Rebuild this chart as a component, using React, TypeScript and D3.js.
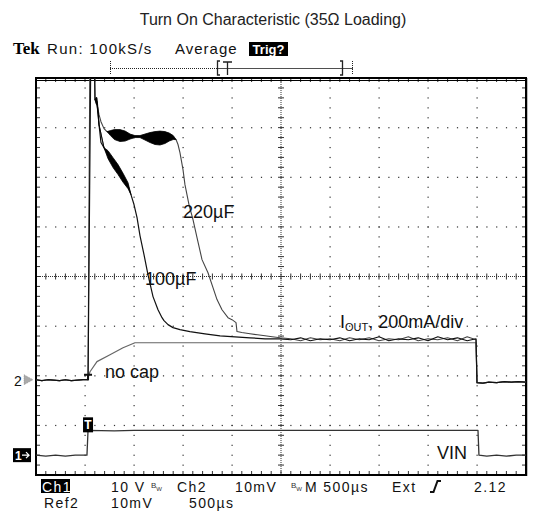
import React from 'react';
import * as d3 from 'd3';

// scope settings
const timeDiv = 500; // µs / div
const iDiv = 200; // mA / div (IOUT)
const vDiv = 10; // V / div (VIN)
const iGround = -2.08; // div, ref marker "2"
const vGround = -3.6; // div, marker "1"

// shared baseline before the trigger and after VIN goes away
const preT = [0, 60, 120, 180, 240, 300, 360, 420, 480];
const preI = [0, -4, 0, -2, -4, 0, -4, -2, 0];
const postT = [4500, 4560, 4620, 4700, 4780, 4850, 4920, 5000];
const postI = [-12, -14, -10, -12, -8, -10, -8, -10];

// 220µF
const c220T = [520, 531, 551, 592, 602, 622, 643, 663, 694, 724, 776, 857, 939, 1010, 1112, 1214, 1316, 1388, 1429, 1449,
  1469, 1500, 1520, 1561, 1602, 1643, 1694, 1755, 1806, 1847, 1898, 1959, 2000, 2041, 2051, 2100, 2184, 2260, 2337, 2410, 2490];
const c220I = [0, 0, 1400, 1400, 1129, 1113, 1068, 1040, 1012, 1000, 992, 984, 980, 980, 978, 976, 976, 976, 968, 948,
  915, 847, 786, 706, 645, 573, 484, 431, 371, 323, 282, 250, 242, 230, 194, 190, 185, 181, 177, 173, 169];

// 100µF
const c100T = [520, 531, 561, 592, 602, 622, 643, 663, 694, 735, 786, 837, 888, 939, 969, 1000, 1031, 1061, 1102, 1143,
  1194, 1245, 1286, 1306, 1347, 1398, 1469, 1571, 1724, 1878, 2031, 2184, 2337, 2490];
const c100I = [0, 0, 1400, 1400, 1129, 1121, 1028, 956, 935, 907, 875, 847, 814, 782, 746, 706, 653, 581, 504, 423,
  335, 282, 250, 238, 222, 210, 202, 194, 185, 177, 173, 169, 165, 165];

// noisy settled part
const tailT = [2600, 2700, 2800, 2900, 3000, 3100, 3200, 3300, 3400, 3500, 3600, 3700, 3800, 3900, 4000, 4100, 4200, 4300, 4400, 4490];
const tail100I = [161, 169, 157, 165, 161, 169, 157, 165, 161, 173, 157, 165, 161, 169, 157, 173, 161, 169, 157, 165];
const tail220I = [165, 157, 169, 161, 165, 157, 169, 161, 169, 157, 165, 161, 173, 157, 165, 161, 169, 157, 173, 161];

// ringing envelopes
const band220T = [724, 760, 800, 857, 910, 960, 1010, 1061, 1112, 1163, 1214, 1265, 1316, 1360, 1400, 1429];
const band220Mid = [1000, 994, 988, 984, 982, 980, 980, 980, 978, 976, 974, 974, 976, 978, 976, 968];
const band220Half = [0, 10, 20, 24, 20, 10, 4, 4, 12, 20, 26, 28, 24, 16, 8, 0];
const band100T = [602, 612, 622, 633, 643, 694, 735, 786, 837, 888, 939, 969];
const band100Mid = [1129, 1125, 1121, 1080, 1028, 935, 907, 875, 847, 814, 782, 746];
const band100Half = [0, 12, 16, 10, 0, 0, 16, 20, 20, 18, 12, 0];

// no cap
const ncT = [520, 531, 551, 622, 755, 888, 1010, 1200, 2500, 3500, 4490];
const ncI = [0, 8, 32, 73, 101, 129, 149, 149, 149, 149, 149];

// VIN
const vinT = [0, 100, 200, 300, 400, 520, 531, 800, 1000, 2000, 3000, 4000, 4510, 4520, 4600, 4700, 4800, 4900, 5000];
const vinV = [0, -0.2, 0, -0.2, 0, 0, 5, 4.9, 5, 5, 5, 5, 5, 0, -0.2, 0, -0.2, 0, 0];

const left = 36, right = 526, top = 78, bottom = 475;
const x = d3.scaleLinear().domain([0, 10 * timeDiv]).range([left, right]);
const xd = d3.scaleLinear().domain([0, 10]).range([left, right]);
const yd = d3.scaleLinear().domain([-4, 4]).range([bottom, top]);
const yI = (mA: number) => yd(iGround + mA / iDiv);
const yV = (v: number) => yd(vGround + v / vDiv);

const zip = (a: number[], b: number[]) => a.map((t, i) => [t, b[i]] as [number, number]);

const lineI = d3.line<[number, number]>().x(d => x(d[0])).y(d => yI(d[1]));
const lineV = d3.line<[number, number]>().x(d => x(d[0])).y(d => yV(d[1]));

const bandArea = (ts: number[], mid: number[], half: number[]) =>
  d3.area<number>()
    .x(i => x(ts[i]))
    .y0(i => yI(mid[i] - half[i]))
    .y1(i => yI(mid[i] + half[i]))(d3.range(ts.length)) || '';

const font = 'Liberation Sans, Arial, sans-serif';

export default function App() {
  const trace220 = [...zip(preT, preI), ...zip(c220T, c220I), ...zip(tailT, tail220I), ...zip(postT, postI)];
  const trace100 = [...zip(preT, preI), ...zip(c100T, c100I), ...zip(tailT, tail100I), ...zip(postT, postI)];
  const traceNc = [...zip(preT, preI), ...zip(ncT, ncI), ...zip(postT, postI)];
  const traceVin = zip(vinT, vinV);

  const fifths = d3.range(0, 50.5, 1).map(k => k / 5); // 0..10 div
  const fifthsY = d3.range(0, 40.5, 1).map(k => -4 + k / 5); // -4..4 div

  const dots: React.ReactNode[] = [];
  [1, 2, 3, 4, 6, 7, 8, 9].forEach(i => fifthsY.forEach((j, n) =>
    dots.push(<rect key={`v${i}-${n}`} x={xd(i) - 0.5} y={yd(j) - 0.5} width={1.2} height={1.2} fill="#333" />)));
  [-3, -2, -1, 1, 2, 3].forEach(k => fifths.forEach((i, n) =>
    dots.push(<rect key={`h${k}-${n}`} x={xd(i) - 0.5} y={yd(k) - 0.5} width={1.2} height={1.2} fill="#333" />)));

  const ticks: React.ReactNode[] = [];
  fifths.forEach((i, n) => {
    const px = xd(i);
    ticks.push(<line key={`tt${n}`} x1={px} x2={px} y1={top} y2={top + 4} />);
    ticks.push(<line key={`tb${n}`} x1={px} x2={px} y1={bottom - 4} y2={bottom} />);
    ticks.push(<line key={`tc${n}`} x1={px} x2={px} y1={yd(0) - 3} y2={yd(0) + 3} />);
  });
  fifthsY.forEach((j, n) => {
    const py = yd(j);
    ticks.push(<line key={`tl${n}`} x1={left} x2={left + 4} y1={py} y2={py} />);
    ticks.push(<line key={`tr${n}`} x1={right - 4} x2={right} y1={py} y2={py} />);
    ticks.push(<line key={`tm${n}`} x1={xd(5) - 3} x2={xd(5) + 3} y1={py} y2={py} />);
  });

  const txt = { fontFamily: font, fontSize: 15, letterSpacing: 1, fill: '#111' } as const;
  const rd = { fontFamily: font, fontSize: 14, letterSpacing: 1.4, fill: '#111' } as const;

  return (
    <svg width={533} height={513} style={{ position: 'absolute', left: 0, top: 0, background: '#fff' }}>
      <defs>
        <clipPath id="screen">
          <rect x={left} y={top} width={right - left} height={bottom - top} />
        </clipPath>
      </defs>

      <text x={273} y={25} textAnchor="middle" fontFamily={font} fontSize={16} fill="#222">
        Turn On Characteristic (35Ω Loading)
      </text>

      {/* header */}
      <text x={13} y={54} fontFamily="Liberation Serif, Times New Roman, serif" fontWeight="bold" fontSize={17}>Tek</text>
      <text x={47} y={54} {...txt} letterSpacing={1.3}>Run: 100kS/s</text>
      <text x={175} y={54} {...txt}>Average</text>
      <rect x={249} y={42} width={39} height={14} fill="#000" />
      <text x={268.5} y={54} textAnchor="middle" fontFamily={font} fontWeight="bold" fontSize={13} fill="#fff">Trig?</text>

      {/* record bar */}
      <g stroke="#222" strokeWidth={1} fill="none">
        <line x1={110} x2={217} y1={68.5} y2={68.5} strokeDasharray="1 1" />
        <line x1={217} x2={353} y1={68.5} y2={68.5} strokeWidth={0.8} />
        <line x1={110.5} x2={110.5} y1={61} y2={75} strokeDasharray="1 1" />
        <line x1={352.5} x2={352.5} y1={61} y2={75} strokeDasharray="1 1" />
        <path d="M220,61 H217.5 V75 H220" strokeWidth={1.3} />
        <path d="M340,61 H342.5 V75 H340" strokeWidth={1.3} />
        <path d="M223,62 H232 M227.5,62 V75" strokeWidth={1.3} />
      </g>

      {/* graticule */}
      <g>{dots}</g>
      <line x1={left} x2={right} y1={yd(0)} y2={yd(0)} stroke="#333" strokeDasharray="1 1" />
      <line x1={xd(5)} x2={xd(5)} y1={top} y2={bottom} stroke="#333" strokeDasharray="1 1" />
      <g stroke="#333" strokeWidth={1}>{ticks}</g>
      <rect x={left} y={top} width={right - left} height={bottom - top} fill="none" stroke="#000" strokeWidth={2} />
      <line x1={left} x2={right} y1={80.5} y2={80.5} stroke="#000" strokeWidth={1} />
      <line x1={right + 0.5} x2={right + 0.5} y1={top} y2={bottom + 1} stroke="#000" strokeWidth={1.5} />

      {/* traces */}
      <g clipPath="url(#screen)" fill="none" strokeLinejoin="round">
        <path d={lineV(traceVin) || ''} stroke="#333" strokeWidth={1.3} />
        <path d={lineI(traceNc) || ''} stroke="#666" strokeWidth={1.2} />
        <path d={lineI(trace220) || ''} stroke="#444" strokeWidth={1.1} />
        <path d={lineI(trace100) || ''} stroke="#111" strokeWidth={1.2} />
        <path d={bandArea(band220T, band220Mid, band220Half)} fill="#000" stroke="#000" strokeWidth={0.8} />
        <path d={bandArea(band100T, band100Mid, band100Half)} fill="#000" stroke="#000" strokeWidth={0.8} />
      </g>

      {/* trigger marks */}
      <path d={`M${x(531) - 4},${yI(20)} H${x(531) + 4} M${x(531)},${yI(20)} V${yI(-2)}`} stroke="#111" strokeWidth={2} fill="none" />
      <rect x={x(531) - 5} y={yV(5) - 13} width={10} height={15} fill="#000" />
      <text x={x(531)} y={yV(5) - 1} textAnchor="middle" fontFamily={font} fontWeight="bold" fontSize={12} fill="#fff">T</text>

      {/* channel markers */}
      <text x={14} y={386} fontFamily={font} fontSize={14} fill="#111">2</text>
      <path d={`M24,${yI(0) - 5} L33,${yI(0)} L24,${yI(0) + 5} Z`} fill="#aaa" stroke="#888" strokeWidth={0.6} strokeDasharray="1 1" />
      <rect x={13} y={yV(0) - 7} width={18} height={14} fill="#000" />
      <text x={15} y={yV(0) + 5} fontFamily={font} fontWeight="bold" fontSize={12} fill="#fff">1</text>
      <path d={`M22,${yV(0)} H29 M26,${yV(0) - 3} L29,${yV(0)} L26,${yV(0) + 3}`} stroke="#fff" strokeWidth={1.3} fill="none" />

      {/* labels */}
      <g fontFamily={font} fontSize={18} fill="#111">
        <text x={183} y={218}>220µF</text>
        <text x={145} y={285}>100µF</text>
        <text x={105} y={378}>no cap</text>
        <text x={437} y={459}>VIN</text>
        <text x={340} y={328}>I<tspan fontSize={11} dy={3}>OUT</tspan><tspan dy={-3}>, 200mA/div</tspan></text>
      </g>

      {/* readout */}
      <rect x={41} y={479} width={29} height={14} fill="#000" />
      <text x={42} y={492} {...rd} fill="#fff">Ch1</text>
      <text x={111} y={492} {...rd}>10 V</text>
      <text x={151} y={488} fontFamily={font} fontSize={8} fill="#333">B<tspan fontSize={6} dy={3}>W</tspan></text>
      <text x={177} y={492} {...rd}>Ch2</text>
      <text x={235} y={492} {...rd}>10mV</text>
      <text x={291} y={488} fontFamily={font} fontSize={8} fill="#333">B<tspan fontSize={6} dy={3}>W</tspan></text>
      <text x={305} y={492} {...rd}>M 500µs</text>
      <text x={392} y={492} {...rd}>Ext</text>
      <path d="M430,492 H433.5 L437.5,481 H441" stroke="#111" strokeWidth={2} fill="none" />
      <text x={474} y={492} {...rd}>2.12</text>
      <text x={44} y={508} {...rd}>Ref2</text>
      <text x={111} y={508} {...rd}>10mV</text>
      <text x={189} y={508} {...rd}>500µs</text>
    </svg>
  );
}
